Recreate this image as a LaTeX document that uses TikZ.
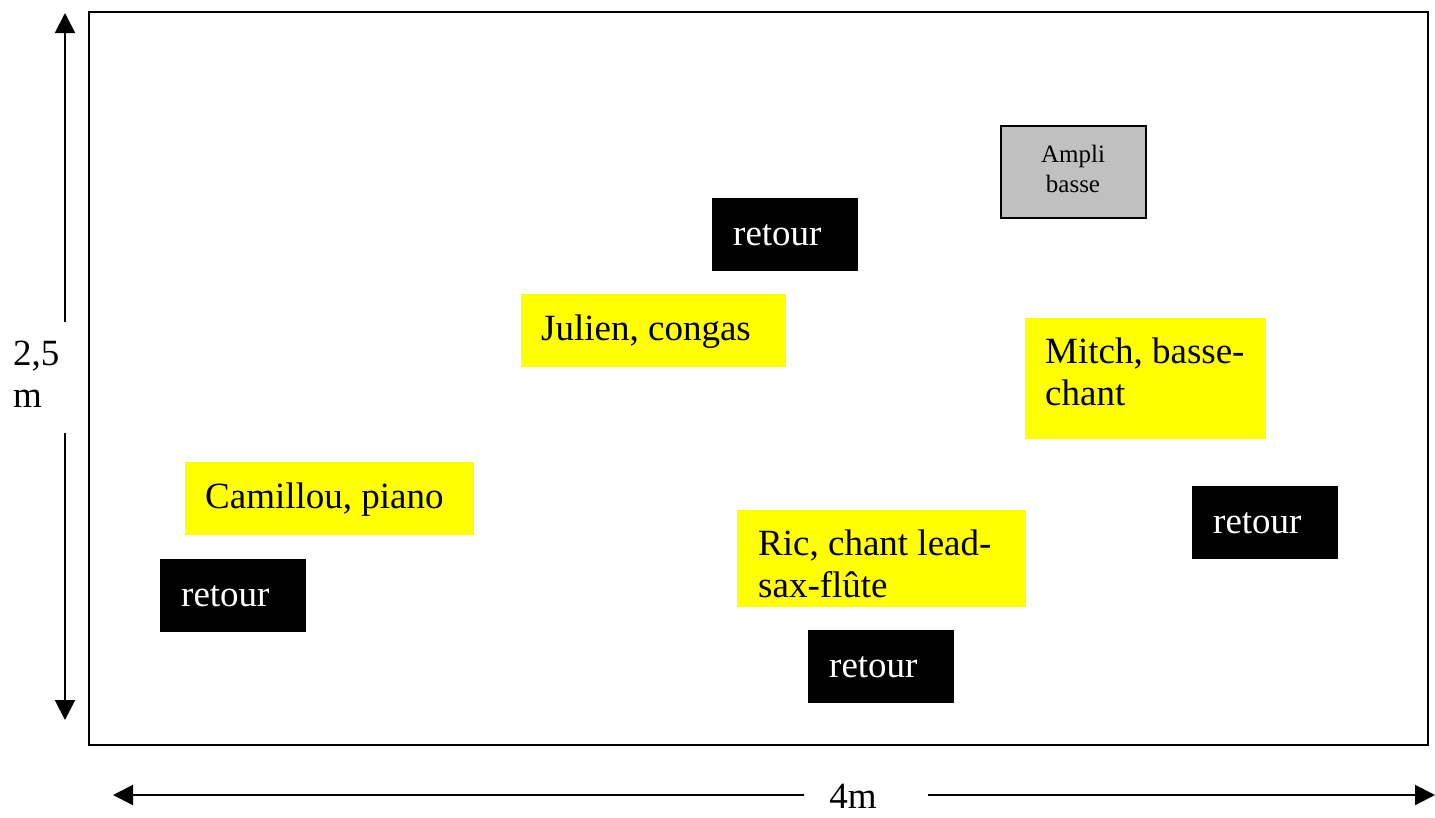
\documentclass[tikz,border=0pt]{standalone}
\usepackage{fontspec}
\setmainfont{Liberation Serif}
\usetikzlibrary{arrows.meta}
\definecolor{ampligray}{RGB}{192,192,192}
\definecolor{noteyellow}{RGB}{255,255,0}
\begin{document}
\begin{tikzpicture}[x=1pt,y=-1pt,
  boxbase/.style={inner sep=0pt, outer sep=0pt, anchor=north west},
  yellowbox/.style={boxbase, fill=noteyellow},
  retourbox/.style={boxbase, fill=black, minimum width=146pt, minimum height=73pt},
  lbl/.style={inner sep=0pt, anchor=base west, align=left, font=\fontsize{37}{42}\selectfont},
  whitelbl/.style={lbl, text=white},
  dimline/.style={line width=2pt, -{Triangle[width=20pt,length=20pt]}}]
\useasboundingbox (0,0) rectangle (1435,817);
% stage
\node[boxbase, draw, line width=2pt, minimum width=1339pt, minimum height=733pt] (stage) at (89,12) {};
% ampli
\node[boxbase, fill=ampligray, draw=black, line width=1.5pt, minimum width=145pt, minimum height=92pt] (amplibox) at (1001,126) {};
\node[inner sep=0pt, anchor=base, align=center, font=\fontsize{25}{30}\selectfont] (ampli) at (1073,192) {Ampli\\basse};
% retour boxes
\node[retourbox] (r1box) at (712,198) {};
\node[whitelbl] (r1) at (733,245) {retour};
\node[retourbox] (r2box) at (1192,486) {};
\node[whitelbl] (r2) at (1213,533) {retour};
\node[retourbox] (r3box) at (160,559) {};
\node[whitelbl] (r3) at (181,606) {retour};
\node[retourbox] (r4box) at (808,630) {};
\node[whitelbl] (r4) at (829,677) {retour};
% musicians
\node[yellowbox, minimum width=265pt, minimum height=73pt] (julienbox) at (521,294) {};
\node[lbl] (julien) at (541,340) {Julien, congas};
\node[yellowbox, minimum width=241pt, minimum height=121pt] (mitchbox) at (1025,318) {};
\node[lbl] (mitch) at (1045,405) {Mitch, basse-\\chant};
\node[yellowbox, minimum width=289pt, minimum height=73pt] (camilloubox) at (185,462) {};
\node[lbl] (camillou) at (205,508) {Camillou, piano};
\node[yellowbox, minimum width=289pt, minimum height=97pt] (ricbox) at (737,510) {};
\node[lbl] (ric) at (758,597) {Ric, chant lead-\\sax-flûte};
% vertical dimension
\node[lbl] (hdim) at (13,407) {2,5\\m};
\coordinate (vtop) at (65,13);
\coordinate (vtopgap) at (65,322);
\coordinate (vbotgap) at (65,433);
\coordinate (vbot) at (65,720);
\draw[dimline] (vtopgap) -- (vtop);
\draw[dimline] (vbotgap) -- (vbot);
% horizontal dimension
\node[inner sep=0pt, anchor=base, text depth=0pt, font=\fontsize{37}{42}\selectfont] (wdim) at (853,808) {4m};
\coordinate (hleft) at (113,795);
\coordinate (hleftgap) at (804,795);
\coordinate (hrightgap) at (928,795);
\coordinate (hright) at (1435,795);
\draw[dimline] (hleftgap) -- (hleft);
\draw[dimline] (hrightgap) -- (hright);
\end{tikzpicture}
\end{document}
